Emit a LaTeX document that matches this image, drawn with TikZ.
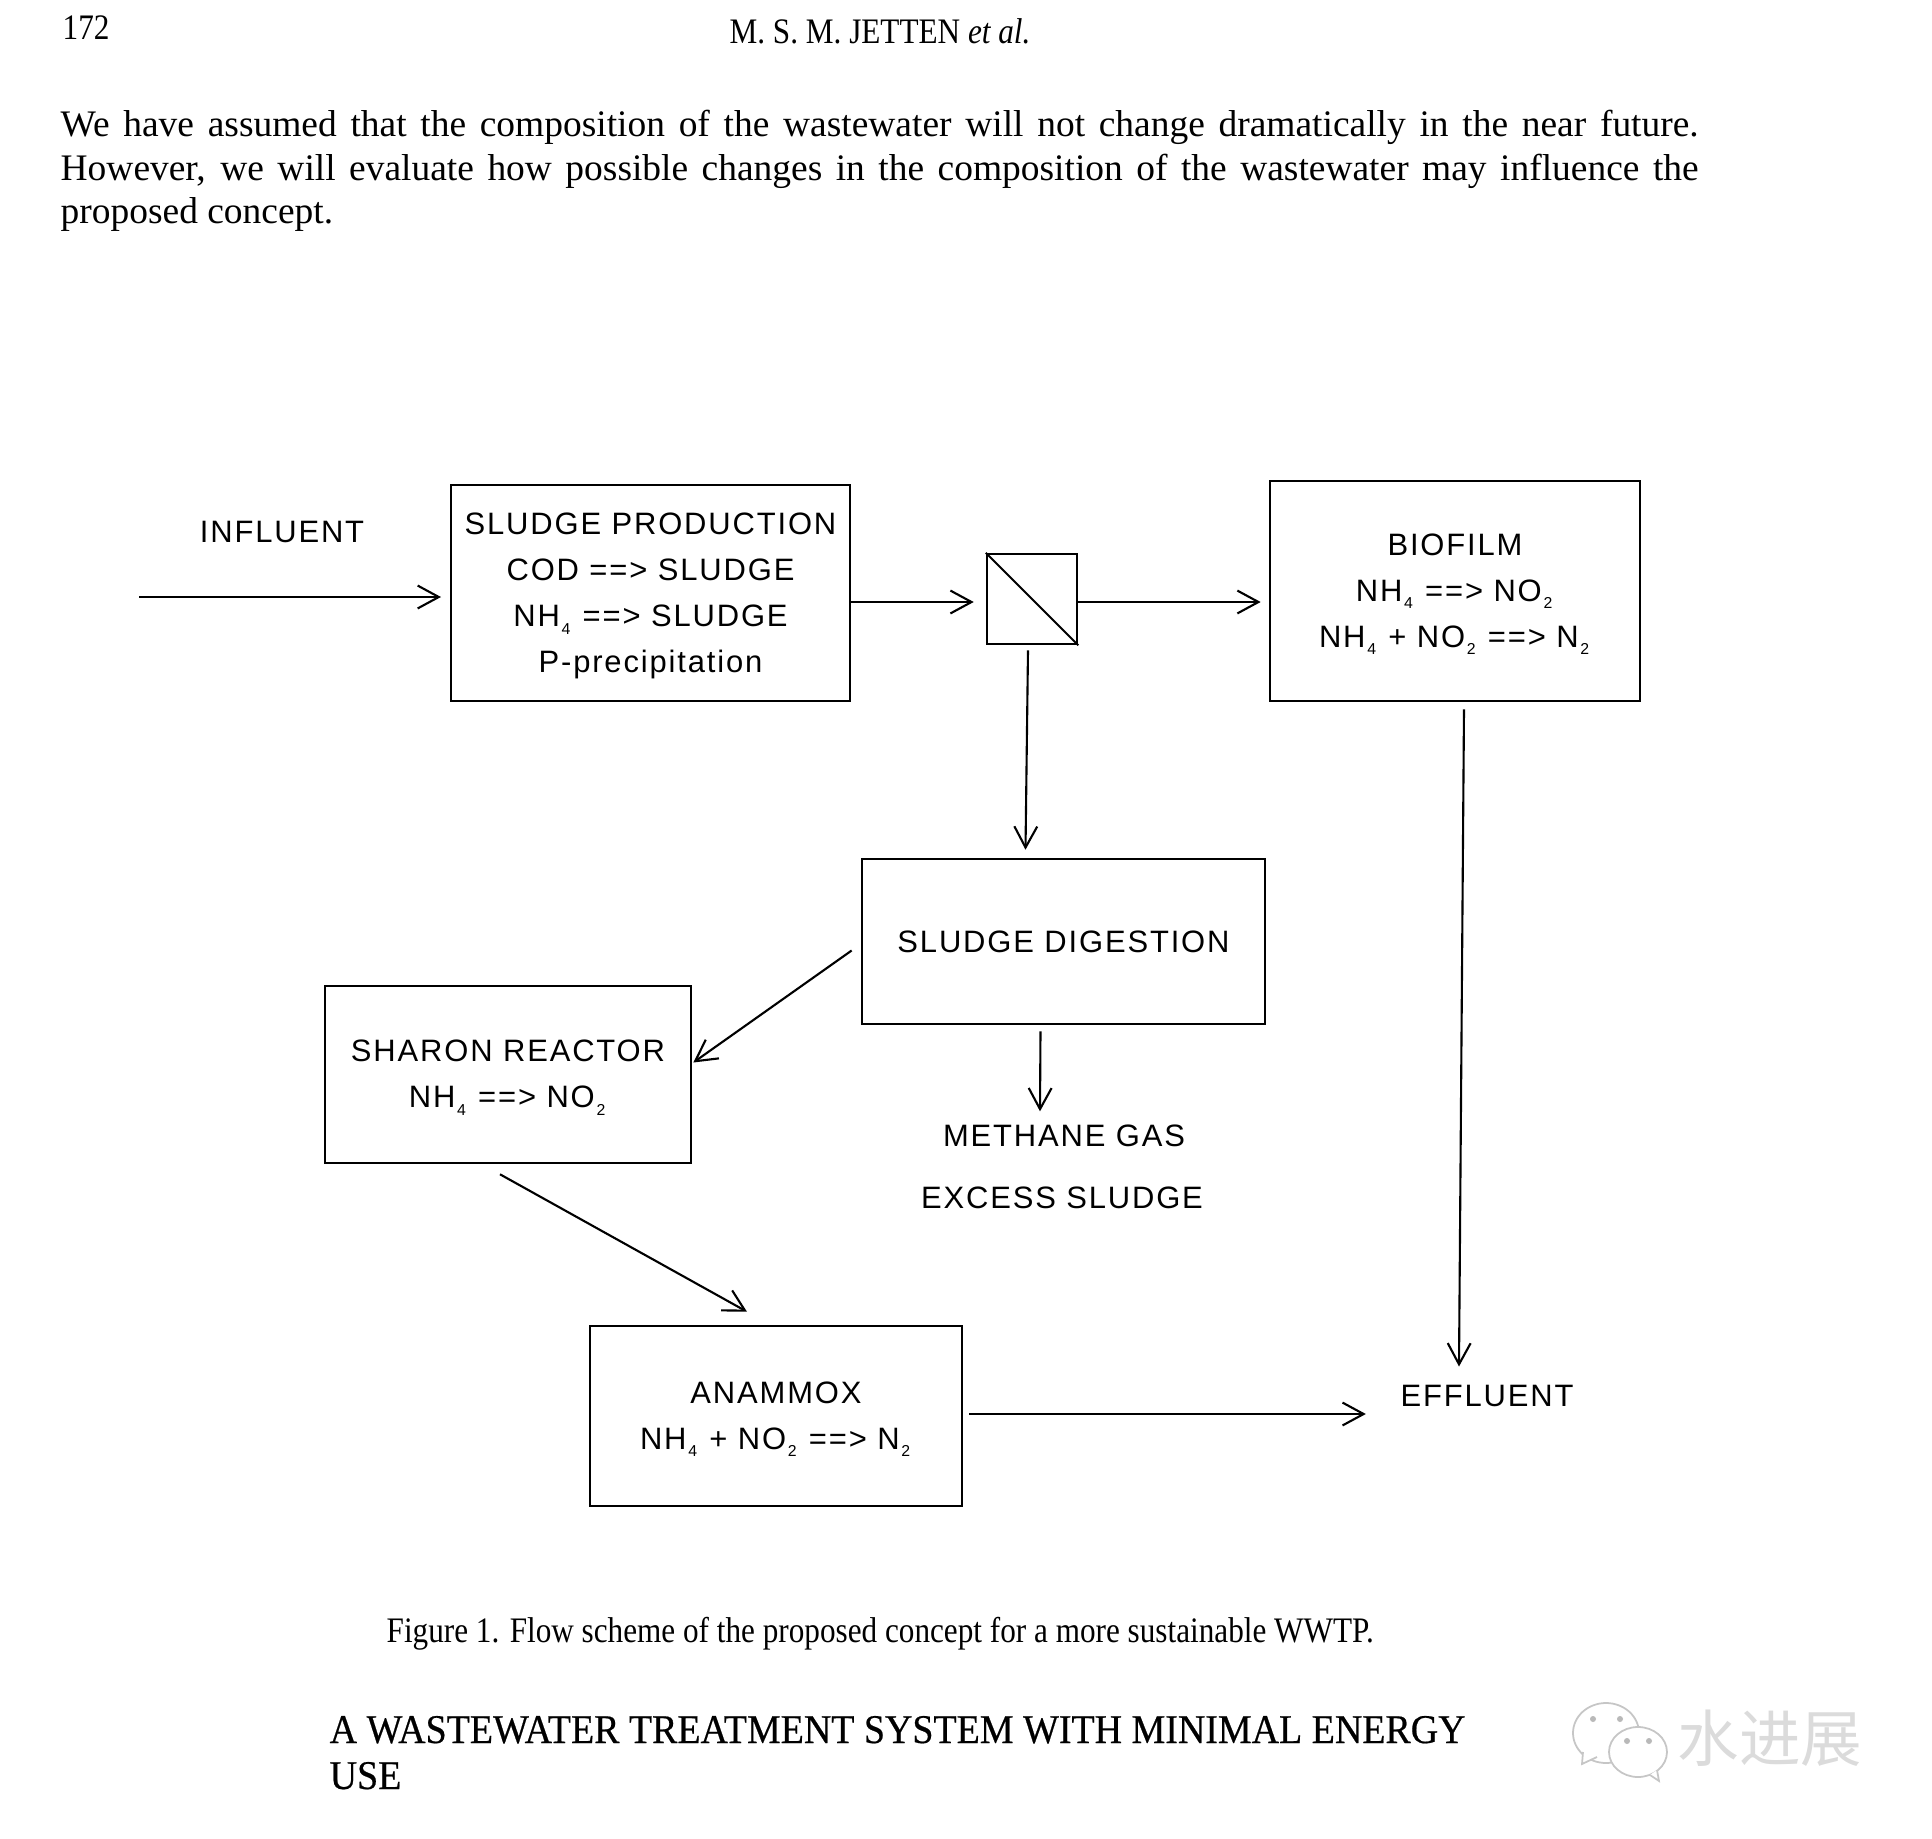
\documentclass[tikz,border=0pt]{standalone}
\usepackage{fontspec}
\setmainfont{Liberation Serif}
\newfontfamily\boxfont[LetterSpace=6]{Liberation Sans}
\newfontfamily\narrowfont[FakeStretch=0.87]{Liberation Serif}
\newfontfamily\headfont[FakeStretch=0.93,FakeBold=0.5]{Liberation Serif}
\newfontfamily\cjkfont{Noto Sans CJK SC}
\usetikzlibrary{arrows.meta,calc}
\newcommand{\subnum}[1]{\kern0.5pt\raisebox{-0.45ex}{\fontsize{4.5}{5}\selectfont #1}\kern0.5pt\relax}
\newcommand{\toppad}{\rule{0pt}{8pt}}
\tikzset{
    flowbox/.style={draw,line width=0.7pt,inner sep=0pt,align=center},
    flowtext/.style={inner sep=0pt},
    flowline/.style={->,line width=0.6pt},
    pagetext/.style={inner sep=0pt,anchor=base west},
    chatbubble/.style={draw=gray!45,fill=white,line width=0.5pt}
}
\begin{document}
\begin{tikzpicture}[x=0.01cm,y=-0.01cm,>={Straight Barb[length=6pt,width=6.5pt]},
    every node/.style={font=\boxfont\fontsize{8.8}{13.1}\selectfont}]
    \useasboundingbox (0,0) rectangle (1932,1839);

    \node[pagetext,font=\narrowfont\fontsize{10.2}{12}\selectfont] (pagenum) at (62,39) {172};
    \node[inner sep=0pt,font=\narrowfont\fontsize{10.2}{12}\selectfont] (header) at (880,31) {M. S. M. JETTEN \textit{et al.}};
    \node[inner sep=0pt,anchor=north west,text width=16.37cm,align=justify,
        font=\fontsize{10.65}{12.5}\selectfont] (bodytext) at (60,109)
        {We have assumed that the composition of the wastewater will not change dramatically in the near future.\linebreak
        However, we will evaluate how possible changes in the composition of the wastewater may influence the\linebreak
        proposed concept.};

    \node[flowbox,minimum width=3.99cm,minimum height=2.16cm] (sludge) at (650.5,593)
        {\toppad SLUDGE PRODUCTION\\COD ==> SLUDGE\\NH\subnum{4} ==> SLUDGE\\P-precipitation};
    \node[flowbox,minimum width=0.9cm,minimum height=0.9cm] (split) at (1032,599) {};
    \draw[line width=0.6pt] (split.north west) -- (split.south east);
    \node[flowbox,minimum width=3.7cm,minimum height=2.2cm] (biofilm) at (1455,591)
        {\toppad BIOFILM\\NH\subnum{4} ==> NO\subnum{2}\\NH\subnum{4} + NO\subnum{2} ==> N\subnum{2}};
    \node[flowbox,minimum width=4.03cm,minimum height=1.65cm] (digestion) at (1063.5,941.5) {SLUDGE DIGESTION};
    \node[flowbox,minimum width=3.66cm,minimum height=1.77cm] (sharon) at (508,1074.5)
        {\toppad SHARON REACTOR\\NH\subnum{4} ==> NO\subnum{2}};
    \node[flowbox,minimum width=3.72cm,minimum height=1.8cm] (anammox) at (776,1416)
        {\toppad ANAMMOX\\NH\subnum{4} + NO\subnum{2} ==> N\subnum{2}};

    \node[flowtext] (influent) at (282,532) {INFLUENT};
    \node[flowtext] (methane) at (1064,1136) {METHANE GAS};
    \node[flowtext] (excess) at (1062,1198) {EXCESS SLUDGE};
    \node[flowtext] (effluent) at (1487,1396) {EFFLUENT};
    \coordinate (inflow) at (139,597);

    \draw[flowline] (inflow) -- (441,597);
    \draw[flowline] ($(sludge.east)+(0,9)$) -- ($(split.west)+(-12,3)$);
    \draw[flowline] ($(split.east)+(0,3)$) -- ($(biofilm.west)+(-8,11)$);
    \draw[flowline] ($(split.south)+(-4,5)$) -- ($(digestion.north)+(-38,-8)$);
    \draw[flowline] ($(digestion.west)+(-9,9)$) -- ($(sharon.east)+(1,-12)$);
    \draw[flowline] ($(digestion.south)+(-23,6)$) -- ($(methane.north)+(-24,-13)$);
    \draw[flowline] ($(sharon.south)+(-8,10)$) -- ($(anammox.north)+(-29,-13)$);
    \draw[flowline] ($(biofilm.south)+(9,7)$) -- ($(effluent.north)+(-28,-18)$);
    \draw[flowline] ($(anammox.east)+(6,-2)$) -- ($(effluent.west)+(-34,18)$);

    \node[pagetext,font=\narrowfont\fontsize{10.2}{12}\selectfont] (caption) at (386,1642)
        {Figure 1. Flow scheme of the proposed concept for a more sustainable WWTP.};
    \node[pagetext,font=\headfont\fontsize{11.6}{13}\selectfont] (heading) at (329,1743)
        {A WASTEWATER TREATMENT SYSTEM WITH MINIMAL ENERGY};
    \node[pagetext,font=\headfont\fontsize{11.6}{13}\selectfont] (headingend) at (329,1789) {USE};

    \draw[chatbubble] (1606,1733) ellipse [x radius=33,y radius=30];
    \draw[chatbubble] (1583,1752) -- (1582,1764) -- (1597,1757);
    \draw[chatbubble] (1638,1752) ellipse [x radius=29,y radius=25];
    \draw[chatbubble] (1650,1775) -- (1659,1781) -- (1657,1770);
    \foreach \eyex/\eyey in {1593/1719,1620/1719,1627/1741,1649/1741}
        \fill[gray!55] (\eyex,\eyey) circle [radius=3];
    \node[inner sep=0pt,text=gray!28,font=\cjkfont\fontsize{17.5}{18}\selectfont] (watermark) at (1770,1738) {水进展};
\end{tikzpicture}
\end{document}
